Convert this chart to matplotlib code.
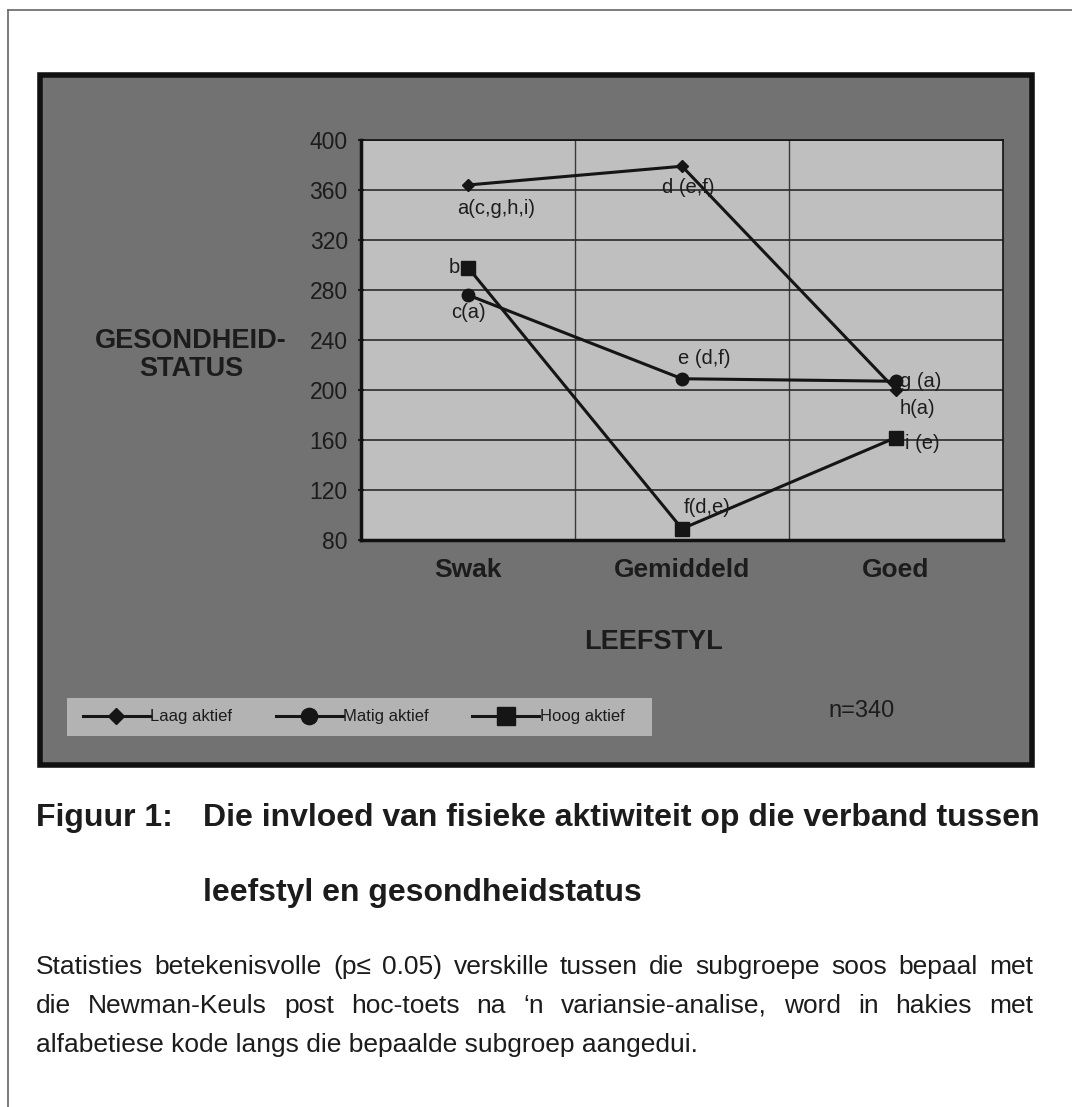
import matplotlib.pyplot as plt
from matplotlib.patches import Rectangle
from matplotlib.lines import Line2D

plt.rcParams['font.family'] = ['Liberation Sans', 'DejaVu Sans']

# data
categories = ['Swak', 'Gemiddeld', 'Goed']
series_names = ['Laag aktief', 'Matig aktief', 'Hoog aktief']
laag = [364, 379, 200]
matig = [276, 209, 207]
hoog = [298, 89, 162]
yticks = [80, 120, 160, 200, 240, 280, 320, 360, 400]

# point labels: (series index, category index, text)
point_labels = [
    (0, 0, 'a(c,g,h,i)'), (0, 1, 'd (e,f)'), (0, 2, 'h(a)'),
    (1, 0, 'c(a)'), (1, 1, 'e (d,f)'), (1, 2, 'g (a)'),
    (2, 0, 'b'), (2, 1, 'f(d,e)'), (2, 2, 'i (e)'),
]

W, H = 1072, 1107
fig = plt.figure(figsize=(W / 100, H / 100), dpi=100)
fig.patch.set_facecolor('white')


def fx(x):
    return x / W


def fy(y):
    return 1 - y / H


ink = '#1c1c1c'

# page frame
fig.add_artist(Line2D([fx(8), 1], [fy(10), fy(10)], color='#666666', lw=1.2))
fig.add_artist(Line2D([fx(8), fx(8)], [fy(10), 0], color='#666666', lw=1.2))

# dark chart panel
panel = Rectangle((fx(40), fy(765)), fx(1032) - fx(40), fy(75) - fy(765),
                  transform=fig.transFigure, facecolor='#727272',
                  edgecolor='#111111', lw=4, zorder=-5)
fig.add_artist(panel)

# light strip behind the legend
fig.add_artist(Rectangle((fx(67), fy(736)), fx(652) - fx(67), fy(698) - fy(736),
                         transform=fig.transFigure, facecolor='#b3b3b3',
                         edgecolor='none', zorder=-4))

ax = fig.add_axes([fx(361), fy(540), fx(1003) - fx(361), fy(140) - fy(540)])
ax.set_facecolor('#bfbfbf')

x = list(range(len(categories)))
all_series = [laag, matig, hoog]
markers = ['D', 'o', 's']
msizes = [6, 9, 10]
for vals, m, ms, name in zip(all_series, markers, msizes, series_names):
    ax.plot(x, vals, color='#151515', lw=2.2, marker=m, markersize=ms,
            label=name, zorder=3)

ax.set_xlim(-0.5, 2.5)
ax.set_ylim(80, 400)
ax.set_yticks(yticks)
ax.set_xticks(x)
ax.set_xticklabels(categories, fontsize=19, fontweight='bold', color=ink)
ax.set_xticks([0.5, 1.5], minor=True)
ax.tick_params(axis='x', which='both', length=0, pad=13)
ax.tick_params(axis='y', labelsize=16.5, colors=ink, length=5, width=1.5,
               direction='inout', pad=7)
ax.grid(axis='y', color='#2a2a2a', lw=1.2, zorder=1)
ax.grid(axis='x', which='minor', color='#3a3a3a', lw=1.0, zorder=1)
ax.set_axisbelow(True)
for side, sp in ax.spines.items():
    sp.set_color('#111111')
    sp.set_linewidth(2.5 if side in ('left', 'bottom') else 1.2)

# significance letters next to each point
offsets = {
    'a(c,g,h,i)': (-11, -24, 'left'), 'd (e,f)': (6, -21, 'center'),
    'h(a)': (4, -19, 'left'), 'c(a)': (0, -18, 'center'),
    'e (d,f)': (22, 20, 'center'), 'g (a)': (4, 0, 'left'),
    'b': (-8, 0, 'right'), 'f(d,e)': (25, 21, 'center'), 'i (e)': (9, -6, 'left'),
}
for si, ci, txt in point_labels:
    dx, dy, ha = offsets[txt]
    ax.annotate(txt, (x[ci], all_series[si][ci]), xytext=(dx, dy),
                textcoords='offset pixels', ha=ha, va='center',
                fontsize=14.5, color=ink, zorder=4)

fig.text(fx(191), fy(355), 'GESONDHEID-\nSTATUS', ha='center', va='center',
         fontsize=19.5, fontweight='bold', color=ink, linespacing=1.15)
fig.text(fx(653), fy(642), 'LEEFSTYL', ha='center', va='center',
         fontsize=19.5, fontweight='bold', color=ink)
fig.text(fx(862), fy(711), 'n=340', ha='center', va='center',
         fontsize=17, color=ink)

handles, labels = ax.get_legend_handles_labels()
leg = fig.legend(handles, labels, ncol=3, loc='center left',
                 bbox_to_anchor=(fx(83), fy(717)), fontsize=12,
                 handlelength=4.0, handletextpad=0.05, columnspacing=2.6,
                 markerscale=1.3, frameon=False, borderpad=0, borderaxespad=0)
for t in leg.get_texts():
    t.set_color(ink)

# caption
fig.text(fx(36), fy(818), 'Figuur 1:', ha='left', va='center',
         fontsize=23, fontweight='bold', color=ink)
fig.text(fx(203), fy(818), 'Die invloed van fisieke aktiwiteit op die verband tussen',
         ha='left', va='center', fontsize=23, fontweight='bold', color=ink)
fig.text(fx(203), fy(893), 'leefstyl en gesondheidstatus', ha='left', va='center',
         fontsize=23, fontweight='bold', color=ink)

# justified note below the caption
note_lines = [
    'Statisties betekenisvolle (p\u2264 0.05) verskille tussen die subgroepe soos bepaal met',
    'die Newman-Keuls post hoc-toets na \u2018n variansie-analise, word in hakies met',
    'alfabetiese kode langs die bepaalde subgroep aangedui.',
]
note_y = [967, 1006, 1045]
note_size = 19
renderer = fig.canvas.get_renderer()
left, right = 36, 1033
for i, (line, yy) in enumerate(zip(note_lines, note_y)):
    if i == len(note_lines) - 1:
        fig.text(fx(left), fy(yy), line, ha='left', va='center',
                 fontsize=note_size, color=ink)
        continue
    words = line.split(' ')
    texts = [fig.text(0, fy(yy), w, ha='left', va='center', fontsize=note_size,
                      color=ink) for w in words]
    widths = [t.get_window_extent(renderer).width for t in texts]
    gap = (right - left - sum(widths)) / (len(words) - 1)
    pos = left
    for t, w in zip(texts, widths):
        t.set_x(fx(pos))
        pos += w + gap

fig.savefig('out.png', dpi=100)
